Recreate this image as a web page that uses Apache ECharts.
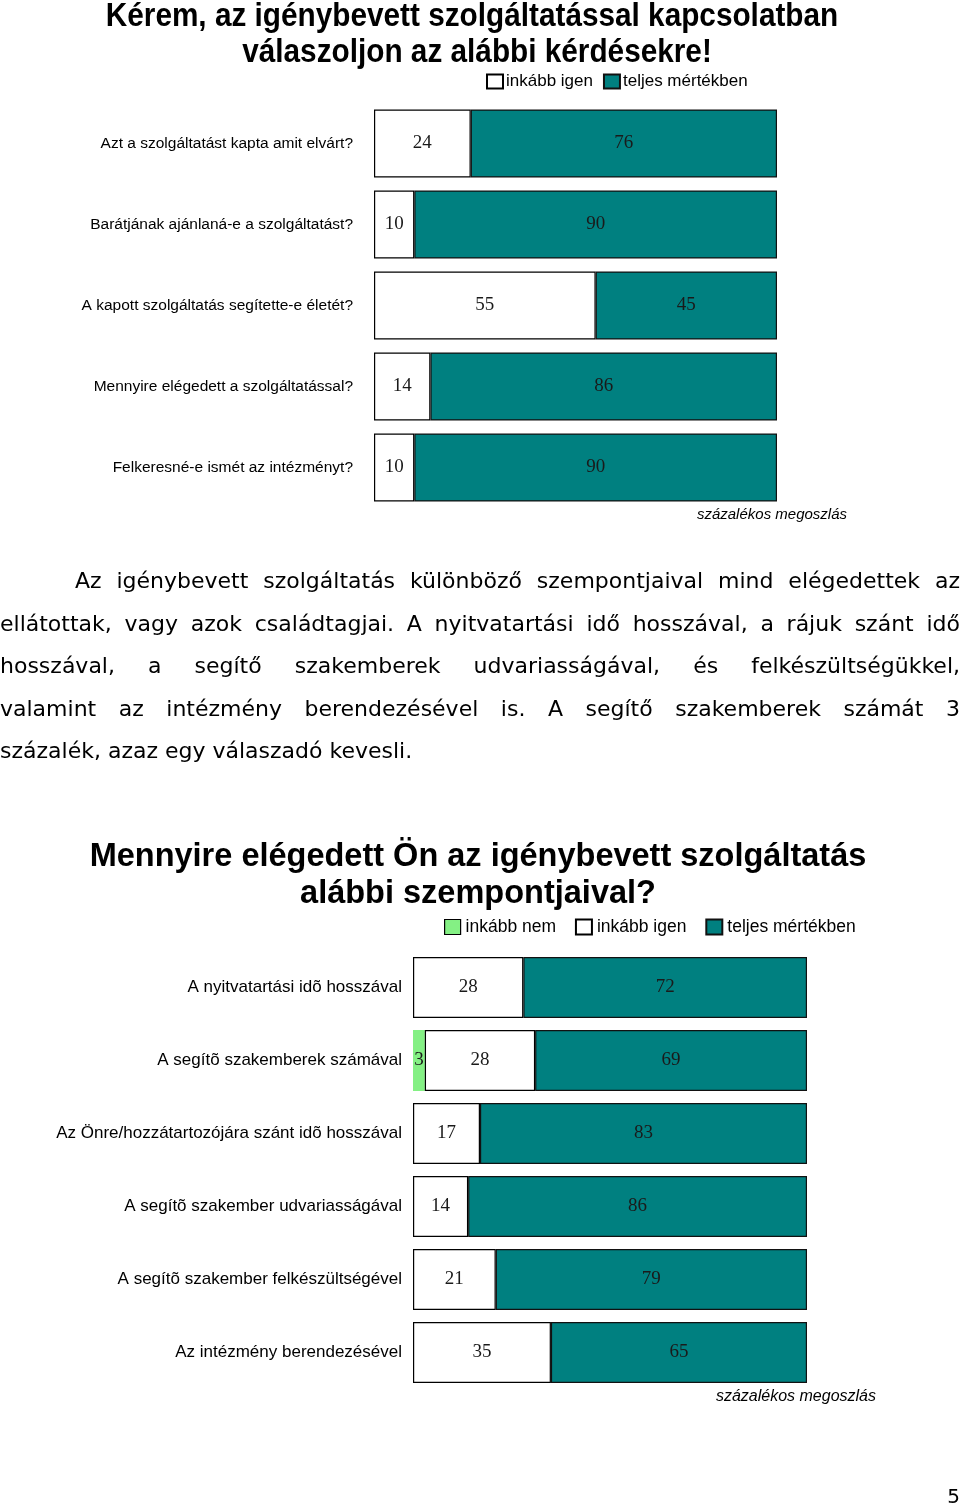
<!DOCTYPE html>
<html><head><meta charset="utf-8">
<script src="https://cdn.jsdelivr.net/npm/echarts@6/dist/echarts.min.js"></script>
<style>
html,body{margin:0;padding:0;background:#fff;}
#wrap{position:relative;width:960px;height:1509px;}
#chart{position:absolute;left:0;top:0;width:960px;height:1509px;}
#para{position:absolute;left:0;top:560px;width:960px;font-family:'DejaVu Sans',Verdana,sans-serif;font-size:22px;line-height:42.5px;color:#000;}
#para span{display:block;white-space:nowrap;text-align:justify;text-align-last:justify;}
#para span.first{padding-left:75px;}
#para span.last{text-align-last:left;}
</style></head>
<body>
<div id="wrap"><div id="chart"></div>
<div id="para"><span class="first">Az igénybevett szolgáltatás különböző szempontjaival mind elégedettek az</span><span>ellátottak, vagy azok családtagjai. A nyitvatartási idő hosszával, a rájuk szánt idő</span><span>hosszával, a segítő szakemberek udvariasságával, és felkészültségükkel,</span><span>valamint az intézmény berendezésével is. A segítő szakemberek számát 3</span><span class="last">százalék, azaz egy válaszadó kevesli.</span></div>
</div>
<script>
// Chart 1
var cats1 = ['Azt a szolgáltatást kapta amit elvárt?','Barátjának ajánlaná-e a szolgáltatást?','A kapott szolgáltatás segítette-e életét?','Mennyire elégedett a szolgáltatással?','Felkeresné-e ismét az intézményt?'];
var igen1 = [24,10,55,14,10];
var teljes1 = [76,90,45,86,90];
// Chart 2
var cats2 = ['A nyitvatartási idõ hosszával','A segítõ szakemberek számával','Az Önre/hozzátartozójára szánt idõ hosszával','A segítõ szakember udvariasságával','A segítõ szakember felkészültségével','Az intézmény berendezésével'];
var nem2 = [0,3,0,0,0,0];
var igen2 = [28,28,17,14,21,35];
var teljes2 = [72,69,83,86,79,65];

var TEAL = '#008080', GREEN = '#84F084';
var NARROW = "'Liberation Sans Narrow','Arial Narrow','Liberation Sans',Arial,sans-serif";
var SERIF = "'Liberation Serif','Times New Roman',serif";
var lbl = {show:true,position:'inside',fontFamily:SERIF,fontSize:19,color:'#1a1a1a',
  formatter:function(p){return p.value ? String(p.value) : '';}};

var chart = echarts.init(document.getElementById('chart'), null, {renderer:'canvas'});
chart.setOption({
  animation:false,
  backgroundColor:'#fff',
  graphic:[
    {type:'text',x:472,y:17,scaleX:0.875,style:{text:'Kérem, az igénybevett szolgáltatással kapcsolatban',textAlign:'center',textVerticalAlign:'middle',font:"bold 34px 'Liberation Sans',Arial,sans-serif",fill:'#000'}},
    {type:'text',x:477,y:53,scaleX:0.875,style:{text:'válaszoljon az alábbi kérdésekre!',textAlign:'center',textVerticalAlign:'middle',font:"bold 34px 'Liberation Sans',Arial,sans-serif",fill:'#000'}},
    {type:'text',x:847,y:515,style:{text:'százalékos megoszlás',textAlign:'right',textVerticalAlign:'middle',font:"italic 15px 'Liberation Sans',Arial,sans-serif",fill:'#000'}},
    {type:'text',x:478,y:857,scaleX:0.956,style:{text:'Mennyire elégedett Ön az igénybevett szolgáltatás',textAlign:'center',textVerticalAlign:'middle',font:"bold 34px 'Liberation Sans',Arial,sans-serif",fill:'#000'}},
    {type:'text',x:478,y:894,scaleX:0.956,style:{text:'alábbi szempontjaival?',textAlign:'center',textVerticalAlign:'middle',font:"bold 34px 'Liberation Sans',Arial,sans-serif",fill:'#000'}},
    {type:'text',x:876,y:1397,style:{text:'százalékos megoszlás',textAlign:'right',textVerticalAlign:'middle',font:"italic 16px 'Liberation Sans',Arial,sans-serif",fill:'#000'}},
    {type:'text',x:960,y:1498,style:{text:'5',textAlign:'right',textVerticalAlign:'middle',font:"20px 'DejaVu Sans',sans-serif",fill:'#000'}}
  ],
  legend:[
    {data:['inkább igen','teljes mértékben'],left:481,top:68,itemWidth:16,itemHeight:14,itemGap:10,icon:'rect',
     textStyle:{fontFamily:NARROW,fontSize:17,color:'#000',padding:[0,0,0,-2]}},
    {data:[{name:'inkább nem ',itemStyle:{borderColor:'#000',borderWidth:1.2}},'inkább igen ','teljes mértékben '],left:439,top:913,itemWidth:16,itemHeight:15,itemGap:14,icon:'rect',
     textStyle:{fontFamily:NARROW,fontSize:17.5,color:'#000'}}
  ],
  grid:[
    {left:374,right:183,top:103,height:405,containLabel:false,outerBoundsMode:'none'},
    {left:413,right:153,top:951,height:438,containLabel:false,outerBoundsMode:'none'}
  ],
  xAxis:[
    {gridIndex:0,type:'value',min:0,max:100,show:false},
    {gridIndex:1,type:'value',min:0,max:100,show:false}
  ],
  yAxis:[
    {gridIndex:0,type:'category',data:cats1,inverse:true,axisLine:{show:false},axisTick:{show:false},
     axisLabel:{margin:21,fontFamily:NARROW,fontSize:15.5,color:'#000'}},
    {gridIndex:1,type:'category',data:cats2,inverse:true,axisLine:{show:false},axisTick:{show:false},
     axisLabel:{margin:11,fontFamily:NARROW,fontSize:17,color:'#000'}}
  ],
  series:[
    {name:'inkább igen',type:'bar',stack:'a',xAxisIndex:0,yAxisIndex:0,data:igen1,barWidth:68,
     itemStyle:{color:'#fff',borderColor:'#000',borderWidth:1.2},label:lbl},
    {name:'teljes mértékben',type:'bar',stack:'a',xAxisIndex:0,yAxisIndex:0,data:teljes1,barWidth:68,
     itemStyle:{color:TEAL,borderColor:'#111',borderWidth:1.2},label:lbl},
    {name:'inkább nem ',type:'bar',stack:'b',xAxisIndex:1,yAxisIndex:1,data:nem2,barWidth:61,
     itemStyle:{color:GREEN,borderColor:'#000',borderWidth:0},label:lbl},
    {name:'inkább igen ',type:'bar',stack:'b',xAxisIndex:1,yAxisIndex:1,data:igen2,barWidth:61,
     itemStyle:{color:'#fff',borderColor:'#000',borderWidth:1.2},label:lbl},
    {name:'teljes mértékben ',type:'bar',stack:'b',xAxisIndex:1,yAxisIndex:1,data:teljes2,barWidth:61,
     itemStyle:{color:TEAL,borderColor:'#111',borderWidth:1.2},label:lbl}
  ]
});
</script>
</body></html>
